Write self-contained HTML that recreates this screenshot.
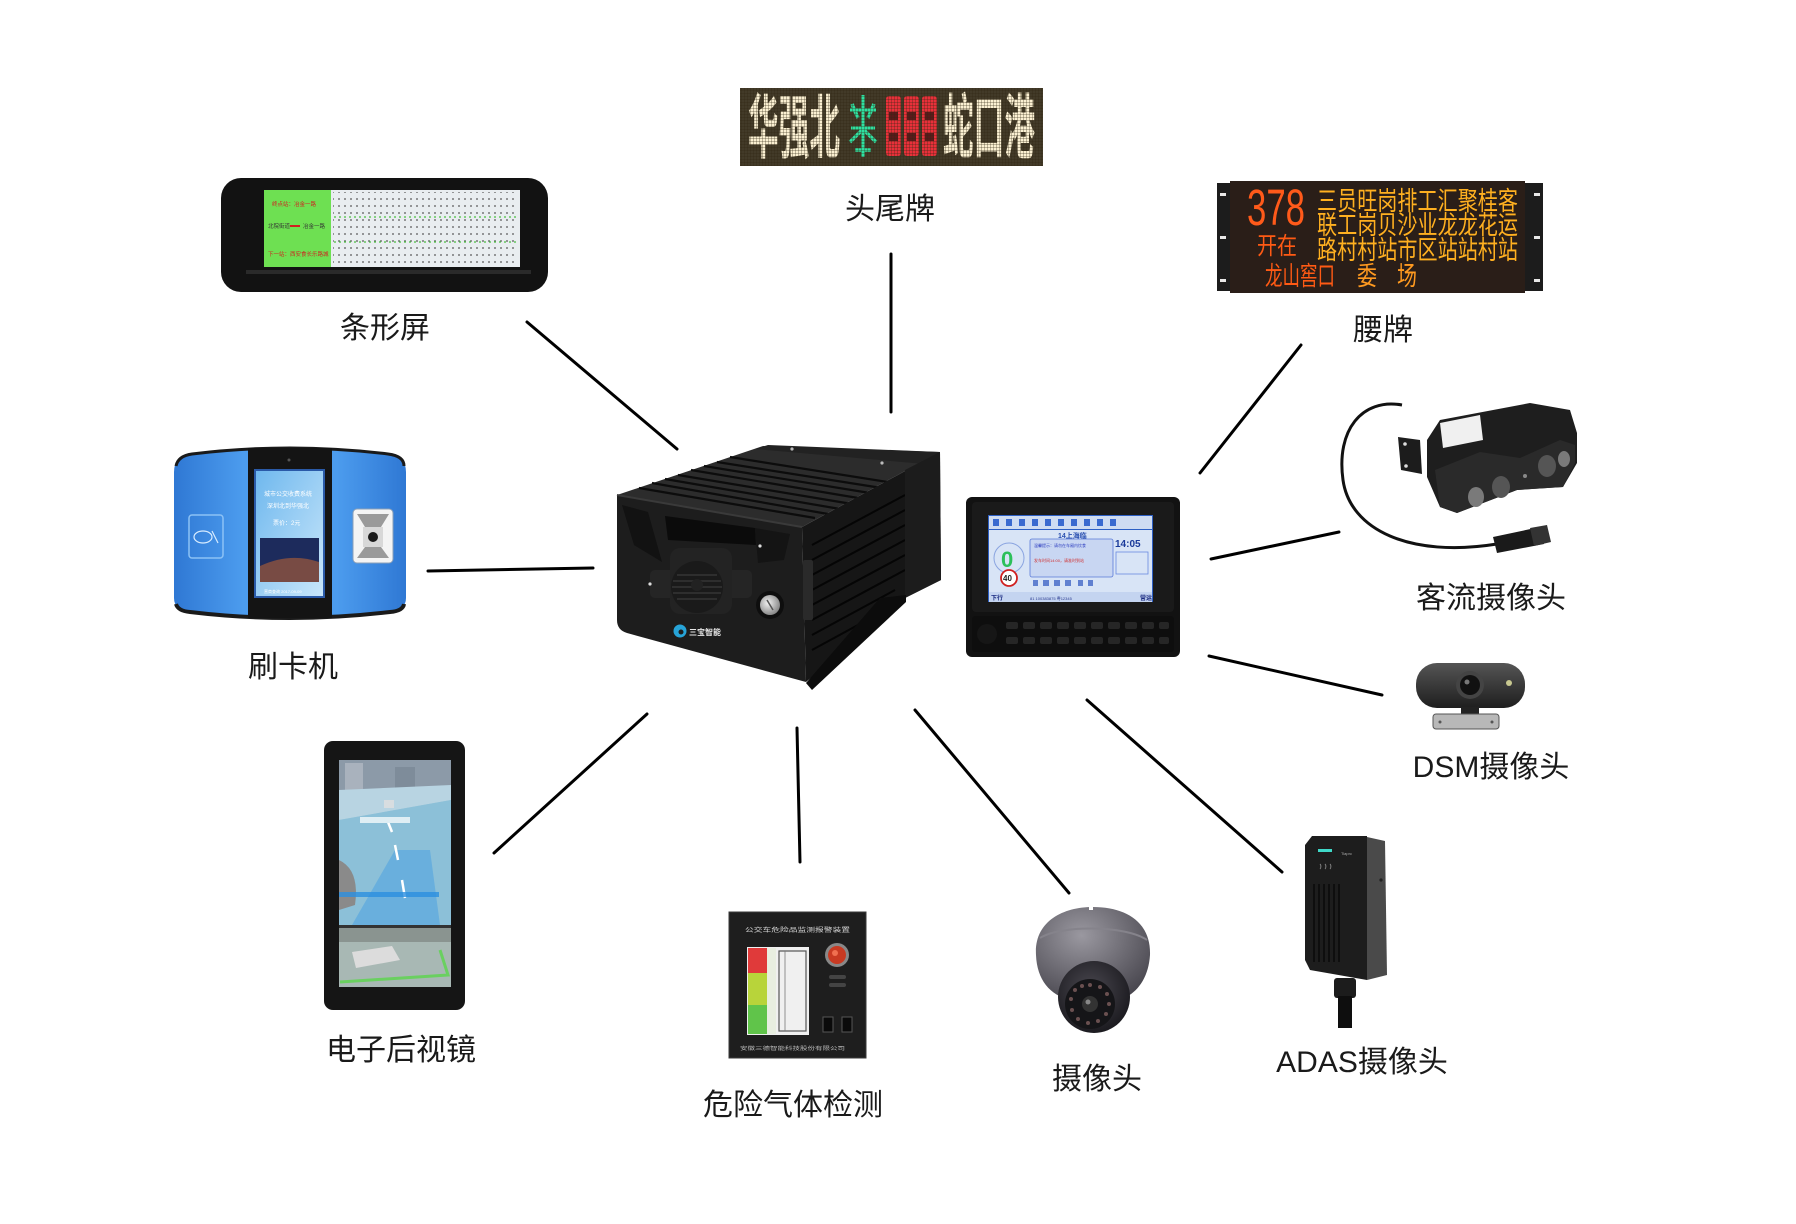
<!DOCTYPE html>
<html>
<head>
<meta charset="utf-8">
<style>
  html,body{margin:0;padding:0;background:#fff;}
  body{width:1796px;height:1224px;overflow:hidden;}
  svg{display:block;}
  .lbl{font-family:"Liberation Sans","Noto Sans CJK SC",sans-serif;font-size:30px;fill:#1a1a1a;}
  .cjk{font-family:"Liberation Sans","Noto Sans CJK SC",sans-serif;}
</style>
</head>
<body>
<svg width="1796" height="1224" viewBox="0 0 1796 1224" xmlns="http://www.w3.org/2000/svg">
  <defs>
    <pattern id="dots" width="6" height="7" patternUnits="userSpaceOnUse">
      <circle cx="3" cy="3" r="0.9" fill="#555"/>
    </pattern>
    <pattern id="ledgrid" width="3" height="3" patternUnits="userSpaceOnUse">
      <rect x="0" y="0" width="3" height="1" fill="rgba(50,40,20,0.3)"/>
      <rect x="0" y="0" width="1" height="3" fill="rgba(50,40,20,0.3)"/>
    </pattern>
    <linearGradient id="blueBody" x1="0" x2="1" y1="0" y2="0">
      <stop offset="0" stop-color="#2f78d4"/>
      <stop offset="0.3" stop-color="#4c9cee"/>
      <stop offset="0.7" stop-color="#4c9cee"/>
      <stop offset="1" stop-color="#2f78d4"/>
    </linearGradient>
    <linearGradient id="cardScreen" x1="0" x2="1" y1="0" y2="1">
      <stop offset="0" stop-color="#6fb8ee"/>
      <stop offset="1" stop-color="#c8e6fa"/>
    </linearGradient>
    <radialGradient id="domeG" cx="0.4" cy="0.3" r="0.75">
      <stop offset="0" stop-color="#9a98a0"/>
      <stop offset="1" stop-color="#48464e"/>
    </radialGradient>
    <radialGradient id="ballG" cx="0.45" cy="0.4" r="0.6">
      <stop offset="0" stop-color="#4a4850"/>
      <stop offset="1" stop-color="#1c1b20"/>
    </radialGradient>
    <linearGradient id="dsmG" x1="0" x2="0" y1="0" y2="1">
      <stop offset="0" stop-color="#555"/>
      <stop offset="1" stop-color="#1e1e1e"/>
    </linearGradient>
    <radialGradient id="keyG" cx="0.4" cy="0.4" r="0.6">
      <stop offset="0" stop-color="#f2f2f2"/>
      <stop offset="1" stop-color="#8a8a8a"/>
    </radialGradient>
  </defs>

  <!-- ============ connector lines ============ -->
  <g stroke="#000" stroke-width="3" stroke-linecap="round">
    <line x1="527" y1="322" x2="677" y2="449"/>
    <line x1="891" y1="254" x2="891" y2="412"/>
    <line x1="1301" y1="345" x2="1200" y2="473"/>
    <line x1="428" y1="571" x2="593" y2="568"/>
    <line x1="1211" y1="559" x2="1339" y2="532"/>
    <line x1="1209" y1="656" x2="1382" y2="695"/>
    <line x1="647" y1="714" x2="494" y2="853"/>
    <line x1="797" y1="728" x2="800" y2="862"/>
    <line x1="915" y1="710" x2="1069" y2="893"/>
    <line x1="1087" y1="700" x2="1282" y2="872"/>
  </g>

  <!-- ============ 条形屏 strip screen ============ -->
  <rect x="221" y="178" width="327" height="114" rx="20" fill="#121212"/>
  <rect x="246" y="270" width="285" height="4" fill="#2a2a2a"/>
  <rect x="264" y="190" width="256" height="77" fill="#e9edf0"/>
  <rect x="264" y="190" width="67" height="77" fill="#6ee052"/>
  <rect x="333" y="192" width="185" height="73" fill="url(#dots)"/>
  <line x1="334" y1="217" x2="516" y2="217" stroke="#4cc040" stroke-width="1.2" stroke-dasharray="2 3"/>
  <line x1="334" y1="242" x2="516" y2="242" stroke="#4cc040" stroke-width="1.2" stroke-dasharray="2 3"/>
  <text x="272" y="206" class="cjk" font-size="5.5" fill="#d02020">终点站：冶金一路</text>
  <text x="268" y="228" class="cjk" font-size="5.5" fill="#333">北院街道</text>
  <rect x="290" y="225" width="10" height="2" fill="#d02020"/>
  <text x="303" y="228" class="cjk" font-size="5.5" fill="#333">冶金一路</text>
  <text x="268" y="256" class="cjk" font-size="5.5" fill="#d02020">下一站：西安食长乐路城</text>

  <!-- ============ 头尾牌 LED sign ============ -->
  <rect x="740" y="88" width="303" height="78" fill="#423a28"/>
  <text x="748" y="152" class="cjk" font-size="70" font-weight="700" textLength="92" lengthAdjust="spacingAndGlyphs" fill="#fbf0d2">华强北</text>
  <g stroke="#2fe0a0" stroke-width="3.5" fill="none">
    <line x1="863" y1="95" x2="863" y2="157"/>
    <path d="M850,110 L876,110 M852,104 L858,118 M874,104 L868,118 M851,128 L875,128 M850,142 L862,130 M876,142 L864,130 M855,150 L871,150"/>
  </g>
  <g fill="#e8303a">
    <rect x="886" y="96" width="15" height="60" rx="3"/>
    <rect x="904" y="96" width="15" height="60" rx="3"/>
    <rect x="922" y="96" width="15" height="60" rx="3"/>
  </g>
  <g fill="#5a1a1a">
    <rect x="889" y="112" width="9" height="8"/>
    <rect x="889" y="133" width="9" height="8"/>
    <rect x="907" y="112" width="9" height="8"/>
    <rect x="907" y="133" width="9" height="8"/>
    <rect x="925" y="112" width="9" height="8"/>
    <rect x="925" y="133" width="9" height="8"/>
  </g>
  <text x="943" y="152" class="cjk" font-size="70" font-weight="700" textLength="92" lengthAdjust="spacingAndGlyphs" fill="#fbf0d2">蛇口港</text>
  <rect x="740" y="88" width="303" height="78" fill="url(#ledgrid)"/>

  <!-- ============ 腰牌 LED sign ============ -->
  <rect x="1217" y="183" width="326" height="108" fill="#1c1c1c"/>
  <rect x="1230" y="181" width="295" height="112" fill="#2a1e18"/>
  <g fill="#e8e8e8">
    <rect x="1220" y="193" width="6" height="3"/>
    <rect x="1220" y="236" width="6" height="3"/>
    <rect x="1220" y="279" width="6" height="3"/>
    <rect x="1534" y="193" width="6" height="3"/>
    <rect x="1534" y="236" width="6" height="3"/>
    <rect x="1534" y="279" width="6" height="3"/>
  </g>
  <text x="1247" y="225" font-family="Liberation Sans, sans-serif" font-size="51" textLength="58" lengthAdjust="spacingAndGlyphs" fill="#ff5a1a">378</text>
  <text x="1257" y="254" class="cjk" font-size="24" textLength="40" lengthAdjust="spacingAndGlyphs" fill="#ff5a14">开在</text>
  <text x="1265" y="285" class="cjk" font-size="26" textLength="70" lengthAdjust="spacingAndGlyphs" fill="#ff5a14">龙山窖口</text>
  <text x="1357" y="285" class="cjk" font-size="26" textLength="20" lengthAdjust="spacingAndGlyphs" fill="#ff9a20">委</text>
  <text x="1397" y="285" class="cjk" font-size="26" textLength="20" lengthAdjust="spacingAndGlyphs" fill="#ff9a20">场</text>
  <g class="cjk" font-size="26" fill="#ffb020">
    <text x="1317" y="210" textLength="201" lengthAdjust="spacingAndGlyphs">三员旺岗排工汇聚桂客</text>
    <text x="1317" y="234" textLength="201" lengthAdjust="spacingAndGlyphs">联工岗贝沙业龙龙花运</text>
    <text x="1317" y="259" textLength="201" lengthAdjust="spacingAndGlyphs">路村村站市区站站村站</text>
  </g>

  <!-- ============ 刷卡机 card reader ============ -->
  <path d="M174,472 Q174,456 192,454 Q290,442 388,454 Q406,456 406,472 L406,598 Q406,610 390,612 Q290,624 190,612 Q174,610 174,598 Z" fill="url(#blueBody)"/>
  <path d="M176,466 Q178,456 192,454 Q290,442 388,454 Q404,456 404,466" fill="none" stroke="#1a1a1a" stroke-width="3"/>
  <path d="M176,604 Q178,611 190,612 Q290,624 390,612 Q403,611 404,604" fill="none" stroke="#1a1a1a" stroke-width="4"/>
  <rect x="248" y="448" width="84" height="170" fill="#141414"/>
  <circle cx="289" cy="460" r="1.5" fill="#555"/>
  <rect x="254" y="469" width="71" height="129" fill="#2a5aa8"/>
  <rect x="256" y="471" width="67" height="125" fill="url(#cardScreen)"/>
  <g class="cjk" fill="#fff" font-size="6">
    <text x="264" y="496">城市公交收费系统</text>
    <text x="267" y="508">深圳北到华强北</text>
    <text x="273" y="525">票价：2元</text>
    <text x="264" y="593" font-size="4">营商查询  2017-09-09</text>
  </g>
  <rect x="260" y="538" width="59" height="44" fill="#1d2b5c"/>
  <path d="M260,566 Q290,552 319,562 L319,582 L260,582 Z" fill="#a05a3a" opacity="0.7"/>
  <rect x="189" y="515" width="34" height="43" rx="3" fill="none" stroke="#8cc2f5" stroke-width="1.5"/>
  <ellipse cx="203" cy="537" rx="9" ry="6" fill="none" stroke="#d8ecff" stroke-width="1.2"/>
  <path d="M212,531 L218,543" stroke="#d8ecff" stroke-width="1.2"/>
  <rect x="353" y="509" width="40" height="54" rx="4" fill="#f4f4f4" stroke="#8a9fb8"/>
  <polygon points="357,514 389,514 381,527 365,527" fill="#9a9a9a"/>
  <polygon points="357,558 389,558 381,547 365,547" fill="#9a9a9a"/>
  <rect x="363" y="527" width="20" height="20" fill="#d8d8d8"/>
  <circle cx="373" cy="537" r="5" fill="#1a1a1a"/>

  <!-- ============ central DVR ============ -->
  <polygon points="617,495 763,446 940,452 802,527" fill="#2c2c2c"/>
  <g stroke="#0c0c0c" stroke-width="2.2">
    <line x1="639" y1="488" x2="815" y2="518"/>
    <line x1="652" y1="483" x2="828" y2="514"/>
    <line x1="665" y1="479" x2="840" y2="509"/>
    <line x1="678" y1="475" x2="852" y2="504"/>
    <line x1="691" y1="470" x2="864" y2="499"/>
    <line x1="704" y1="466" x2="876" y2="494"/>
    <line x1="717" y1="462" x2="888" y2="489"/>
    <line x1="730" y1="457" x2="900" y2="484"/>
  </g>
  <polygon points="755,449 768,445 940,452 936,465" fill="#222"/>
  <circle cx="792" cy="449" r="1.6" fill="#bbb"/>
  <circle cx="882" cy="463" r="1.6" fill="#bbb"/>
  <polygon points="802,527 940,452 941,580 905,598 806,682" fill="#161616"/>
  <g stroke="#050505" stroke-width="2">
    <line x1="812" y1="545" x2="905" y2="495"/>
    <line x1="812" y1="560" x2="905" y2="510"/>
    <line x1="812" y1="575" x2="905" y2="525"/>
    <line x1="812" y1="590" x2="905" y2="540"/>
    <line x1="812" y1="605" x2="905" y2="555"/>
    <line x1="812" y1="620" x2="905" y2="570"/>
    <line x1="812" y1="635" x2="895" y2="590"/>
    <line x1="812" y1="650" x2="880" y2="613"/>
  </g>
  <polygon points="905,470 940,452 941,580 905,598" fill="#1c1c1c"/>
  <polygon points="880,598 906,595 906,602 812,690 806,683" fill="#0c0c0c"/>
  <path d="M617,495 L802,527 L806,682 L627,633 Q617,630 617,620 Z" fill="#1d1d1d"/>
  <path d="M617,495 L802,527" stroke="#3a3a3a" stroke-width="2"/>
  <polygon points="622,505 648,512 662,562 634,545" fill="#121212"/>
  <polygon points="665,516 755,528 756,545 668,540" fill="#0b0b0b"/>
  <polygon points="755,528 790,534 784,560 758,563" fill="#141414"/>
  <rect x="650" y="570" width="102" height="28" rx="5" fill="#252525"/>
  <rect x="670" y="548" width="62" height="66" rx="10" fill="#232323"/>
  <circle cx="697" cy="587" r="26" fill="#1a1a1a"/>
  <g stroke="#2e2e2e" stroke-width="2">
    <line x1="677" y1="575" x2="717" y2="575"/>
    <line x1="673" y1="581" x2="721" y2="581"/>
    <line x1="672" y1="587" x2="722" y2="587"/>
    <line x1="673" y1="593" x2="721" y2="593"/>
    <line x1="677" y1="599" x2="717" y2="599"/>
  </g>
  <circle cx="697" cy="585" r="6" fill="#222"/>
  <circle cx="770" cy="605" r="14" fill="#0e0e0e"/>
  <circle cx="770" cy="605" r="10" fill="url(#keyG)"/>
  <line x1="767" y1="600" x2="773" y2="610" stroke="#555" stroke-width="1.5"/>
  <circle cx="650" cy="584" r="1.6" fill="#ddd"/>
  <circle cx="760" cy="546" r="1.6" fill="#ddd"/>
  <circle cx="680" cy="631" r="6.5" fill="#27a4d8"/>
  <circle cx="681" cy="632" r="2.5" fill="#1d1d1d"/>
  <text x="689" y="635" class="cjk" font-size="8" font-weight="700" fill="#e8e8e8">三宝智能</text>
  <rect x="803" y="560" width="10" height="60" rx="2" fill="#2a2a2a"/>

  <!-- ============ terminal ============ -->
  <rect x="966" y="497" width="214" height="160" rx="6" fill="#121212"/>
  <rect x="972" y="502" width="202" height="110" rx="4" fill="#1a1a1a"/>
  <rect x="988" y="515" width="165" height="87" fill="#2d5fc4"/>
  <rect x="989" y="516" width="163" height="13" fill="#cfdcf2"/>
  <g fill="#3a6ad0">
    <rect x="993" y="519" width="6" height="7"/><rect x="1006" y="519" width="6" height="7"/>
    <rect x="1019" y="519" width="6" height="7"/><rect x="1032" y="519" width="6" height="7"/>
    <rect x="1045" y="519" width="6" height="7"/><rect x="1058" y="519" width="6" height="7"/>
    <rect x="1071" y="519" width="6" height="7"/><rect x="1084" y="519" width="6" height="7"/>
    <rect x="1097" y="519" width="6" height="7"/><rect x="1110" y="519" width="6" height="7"/>
  </g>
  <rect x="989" y="530" width="163" height="62" fill="#d8e4f6"/>
  <text x="1058" y="538" class="cjk" font-size="7" font-weight="700" fill="#2a50b0">14上海临</text>
  <rect x="1030" y="539" width="83" height="38" rx="2" fill="#c8d6f2" stroke="#5a7ad8" stroke-width="0.8"/>
  <text x="1034" y="547" class="cjk" font-size="4" fill="#3040c0">温馨提示：请勿在车厢内饮食</text>
  <text x="1034" y="562" class="cjk" font-size="4" fill="#d03030">发车时间14:00，请准时到站</text>
  <text x="1115" y="547" font-family="Liberation Sans, sans-serif" font-size="10" font-weight="700" fill="#1a3a9a">14:05</text>
  <rect x="1116" y="552" width="32" height="22" fill="none" stroke="#6a8ae0" stroke-width="0.8"/>
  <circle cx="1009" cy="558" r="15" fill="none" stroke="#8aa4e0" stroke-width="1"/>
  <text x="1001" y="567" font-family="Liberation Sans, sans-serif" font-size="22" font-weight="700" fill="#2cc05a">0</text>
  <circle cx="1009" cy="578" r="8" fill="#fff" stroke="#d02020" stroke-width="1.8"/>
  <text x="1003" y="581" font-family="Liberation Sans, sans-serif" font-size="8" font-weight="700" fill="#222">40</text>
  <g fill="#6080d0"><rect x="1033" y="580" width="5" height="6"/><rect x="1043" y="580" width="6" height="6"/><rect x="1054" y="580" width="6" height="6"/><rect x="1065" y="580" width="6" height="6"/><rect x="1078" y="580" width="5" height="6"/><rect x="1088" y="580" width="5" height="6"/></g>
  <rect x="989" y="592" width="163" height="10" fill="#c4d4f0"/>
  <text x="991" y="600" class="cjk" font-size="6" font-weight="700" fill="#1a2a80">下行</text>
  <text x="1140" y="600" class="cjk" font-size="6" font-weight="700" fill="#1a2a80">营运</text>
  <text x="1030" y="600" font-family="Liberation Sans, sans-serif" font-size="4" fill="#2a3a90">81     100383875    粤12345</text>
  <rect x="972" y="616" width="202" height="36" rx="3" fill="#0e0e0e"/>
  <circle cx="987" cy="634" r="10" fill="#161616"/>
  <g fill="#262626">
    <rect x="1006" y="622" width="12" height="7" rx="2"/><rect x="1023" y="622" width="12" height="7" rx="2"/>
    <rect x="1040" y="622" width="12" height="7" rx="2"/><rect x="1057" y="622" width="12" height="7" rx="2"/>
    <rect x="1074" y="622" width="12" height="7" rx="2"/><rect x="1091" y="622" width="12" height="7" rx="2"/>
    <rect x="1108" y="622" width="12" height="7" rx="2"/><rect x="1125" y="622" width="12" height="7" rx="2"/>
    <rect x="1142" y="622" width="12" height="7" rx="2"/><rect x="1159" y="622" width="10" height="7" rx="2"/>
    <rect x="1006" y="637" width="12" height="7" rx="2"/><rect x="1023" y="637" width="12" height="7" rx="2"/>
    <rect x="1040" y="637" width="12" height="7" rx="2"/><rect x="1057" y="637" width="12" height="7" rx="2"/>
    <rect x="1074" y="637" width="12" height="7" rx="2"/><rect x="1091" y="637" width="12" height="7" rx="2"/>
    <rect x="1108" y="637" width="12" height="7" rx="2"/><rect x="1125" y="637" width="12" height="7" rx="2"/>
    <rect x="1142" y="637" width="12" height="7" rx="2"/><rect x="1159" y="637" width="10" height="7" rx="2"/>
  </g>

  <!-- ============ 客流摄像头 passenger camera ============ -->
  <path d="M1402,405 C1362,398 1336,430 1343,480 C1350,530 1410,558 1497,544" fill="none" stroke="#111" stroke-width="3"/>
  <polygon points="1493,537 1540,527 1544,544 1497,553" fill="#1a1a1a"/>
  <polygon points="1530,528 1547,525 1551,542 1534,546" fill="#333"/>
  <polygon points="1398,437 1420,440 1422,474 1401,470" fill="#1c1c1c"/>
  <circle cx="1405" cy="444" r="1.8" fill="#ddd"/>
  <circle cx="1406" cy="466" r="1.8" fill="#ddd"/>
  <path d="M1427,440 L1440,420 L1530,403 L1570,410 L1577,433 L1577,463 L1563,487 L1517,490 L1457,513 L1440,507 L1427,477 Z" fill="#1e1e1e"/>
  <path d="M1435,470 L1480,452 L1520,458 L1560,440 L1575,445 L1575,463 L1563,487 L1517,490 L1457,513 L1440,507 Z" fill="#2a2a2a"/>
  <polygon points="1440,423 1480,415 1483,440 1443,448" fill="#f0f0f0"/>
  <ellipse cx="1476" cy="497" rx="8" ry="10" fill="#7a7a7a"/>
  <ellipse cx="1501" cy="487" rx="9" ry="11" fill="#555"/>
  <ellipse cx="1547" cy="466" rx="9" ry="11" fill="#555"/>
  <ellipse cx="1564" cy="459" rx="6" ry="8" fill="#7a7a7a"/>
  <circle cx="1525" cy="476" r="2" fill="#888"/>

  <!-- ============ DSM camera ============ -->
  <rect x="1416" y="663" width="109" height="45" rx="21" fill="url(#dsmG)"/>
  <circle cx="1470" cy="685" r="14" fill="#444"/>
  <circle cx="1470" cy="685" r="10" fill="#111"/>
  <circle cx="1467" cy="682" r="2.5" fill="#777"/>
  <circle cx="1509" cy="683" r="3" fill="#c8c890"/>
  <rect x="1461" y="707" width="18" height="9" fill="#222"/>
  <rect x="1433" y="714" width="66" height="15" rx="3" fill="#b8b8b8" stroke="#555"/>
  <circle cx="1440" cy="722" r="1.5" fill="#555"/>
  <circle cx="1492" cy="722" r="1.5" fill="#555"/>

  <!-- ============ 电子后视镜 mirror ============ -->
  <rect x="324" y="741" width="141" height="269" rx="9" fill="#151515"/>
  <rect x="339" y="760" width="112" height="227" fill="#9ec6d8"/>
  <rect x="339" y="760" width="112" height="30" fill="#8c9aa8"/>
  <rect x="345" y="763" width="18" height="27" fill="#a9b2bd"/>
  <rect x="395" y="767" width="20" height="23" fill="#7e8c9a"/>
  <polygon points="339,790 451,785 451,800 339,820" fill="#b8d4e2"/>
  <polygon points="339,820 451,800 451,925 339,925" fill="#8cc0d8"/>
  <polygon points="352,925 395,850 430,850 440,925" fill="#5aa8e0" opacity="0.7"/>
  <g stroke="#fff" stroke-width="2.5">
    <line x1="388" y1="822" x2="392" y2="832"/>
    <line x1="395" y1="845" x2="398" y2="860"/>
    <line x1="402" y1="880" x2="405" y2="898"/>
  </g>
  <rect x="360" y="817" width="50" height="6" fill="#dfeef4"/>
  <rect x="384" y="800" width="10" height="8" fill="#d8dde0"/>
  <path d="M339,860 Q360,870 355,905 L339,910 Z" fill="#8a8a8a"/>
  <rect x="339" y="892" width="100" height="5" fill="#2a8ee0" opacity="0.8"/>
  <rect x="339" y="925" width="112" height="3" fill="#333"/>
  <rect x="339" y="928" width="112" height="59" fill="#a8b8b4"/>
  <rect x="339" y="928" width="112" height="14" fill="#8a9490"/>
  <path d="M352,952 L392,946 L400,960 L356,968 Z" fill="#dcdcdc"/>
  <path d="M340,982 L448,975 L440,950" fill="none" stroke="#6ad060" stroke-width="3"/>

  <!-- ============ 危险气体检测 device ============ -->
  <rect x="729" y="912" width="137" height="146" fill="#1e1e1e" stroke="#3a3a3a"/>
  <text x="745" y="932" class="cjk" font-size="6" fill="#d8d8d8" textLength="105" lengthAdjust="spacingAndGlyphs">公交车危险品监测报警装置</text>
  <rect x="747" y="947" width="62" height="88" fill="#f0f0f0"/>
  <rect x="748" y="948" width="19" height="25" fill="#e03a3a"/>
  <rect x="748" y="973" width="19" height="61" fill="#b8d43a"/>
  <rect x="748" y="1005" width="19" height="29" fill="#60c44a"/>
  <rect x="767" y="948" width="9" height="86" fill="#e8eee0"/>
  <rect x="779" y="951" width="27" height="80" fill="none" stroke="#555" stroke-width="1.2"/>
  <line x1="785" y1="951" x2="785" y2="1031" stroke="#777" stroke-width="0.8"/>
  <circle cx="837" cy="955" r="12" fill="#888"/>
  <circle cx="837" cy="955" r="9" fill="#c83a22"/>
  <circle cx="835" cy="953" r="3" fill="#f07050"/>
  <rect x="829" y="975" width="17" height="4" rx="2" fill="#444"/>
  <rect x="829" y="983" width="17" height="4" rx="2" fill="#444"/>
  <rect x="823" y="1017" width="10" height="15" fill="#0a0a0a" stroke="#555"/>
  <rect x="842" y="1017" width="10" height="15" fill="#0a0a0a" stroke="#555"/>
  <text x="740" y="1050" class="cjk" font-size="5" fill="#bbb" textLength="105" lengthAdjust="spacingAndGlyphs">安徽三德智能科技股份有限公司</text>

  <!-- ============ dome camera ============ -->
  <path d="M1036,955 C1034,922 1062,907 1093,907 C1126,907 1151,922 1150,955 C1148,985 1130,1000 1110,1002 L1070,1000 C1050,995 1037,980 1036,955 Z" fill="url(#domeG)"/>
  <path d="M1040,938 C1060,925 1125,925 1147,940" fill="none" stroke="#85838b" stroke-width="2"/>
  <rect x="1089" y="905" width="4" height="5" fill="#fff"/>
  <circle cx="1094" cy="997" r="36" fill="url(#ballG)"/>
  <circle cx="1090" cy="1004" r="25" fill="#151518"/>
  <g fill="#6a5050">
    <circle cx="1090" cy="985" r="2"/><circle cx="1100" cy="987" r="2"/><circle cx="1107" cy="994" r="2"/>
    <circle cx="1109" cy="1004" r="2"/><circle cx="1106" cy="1014" r="2"/><circle cx="1098" cy="1021" r="2"/>
    <circle cx="1088" cy="1023" r="2"/><circle cx="1078" cy="1019" r="2"/><circle cx="1072" cy="1010" r="2"/>
    <circle cx="1071" cy="999" r="2"/><circle cx="1075" cy="990" r="2"/><circle cx="1082" cy="986" r="2"/>
  </g>
  <circle cx="1090" cy="1004" r="8" fill="#333"/>
  <circle cx="1088" cy="1002" r="2.5" fill="#888"/>

  <!-- ============ ADAS camera ============ -->
  <polygon points="1305,845 1312,836 1367,836 1367,980 1310,970 1305,960" fill="#1d1d1d"/>
  <polygon points="1367,837 1385,841 1387,975 1367,980" fill="#4a4a4a"/>
  <rect x="1318" y="849" width="14" height="3" fill="#3fd8c8"/>
  <text x="1341" y="855" font-family="Liberation Sans, sans-serif" font-size="4" fill="#aaa">Tiaprc</text>
  <g fill="none" stroke="#888" stroke-width="0.9">
    <path d="M1320,864 a2,3 0 0 1 0,5"/><path d="M1325,864 a2,3 0 0 1 0,5"/><path d="M1330,864 a2,3 0 0 1 0,5"/>
  </g>
  <g stroke="#0a0a0a" stroke-width="1.6">
    <line x1="1314" y1="884" x2="1314" y2="962"/><line x1="1319" y1="884" x2="1319" y2="962"/>
    <line x1="1324" y1="884" x2="1324" y2="962"/><line x1="1329" y1="884" x2="1329" y2="962"/>
    <line x1="1334" y1="884" x2="1334" y2="962"/><line x1="1339" y1="884" x2="1339" y2="962"/>
  </g>
  <circle cx="1381" cy="880" r="1.6" fill="#222"/>
  <rect x="1334" y="978" width="22" height="20" rx="3" fill="#1c1c1c"/>
  <rect x="1338" y="996" width="14" height="32" fill="#0e0e0e"/>

  <!-- ============ labels ============ -->
  <g class="lbl" text-anchor="middle">
    <text x="385" y="338">条形屏</text>
    <text x="890" y="219">头尾牌</text>
    <text x="1383" y="340">腰牌</text>
    <text x="293" y="677">刷卡机</text>
    <text x="1491" y="608">客流摄像头</text>
    <text x="1491" y="777">DSM摄像头</text>
    <text x="401" y="1060">电子后视镜</text>
    <text x="793" y="1115">危险气体检测</text>
    <text x="1097" y="1089">摄像头</text>
    <text x="1362" y="1072">ADAS摄像头</text>
  </g>
</svg>
</body>
</html>
